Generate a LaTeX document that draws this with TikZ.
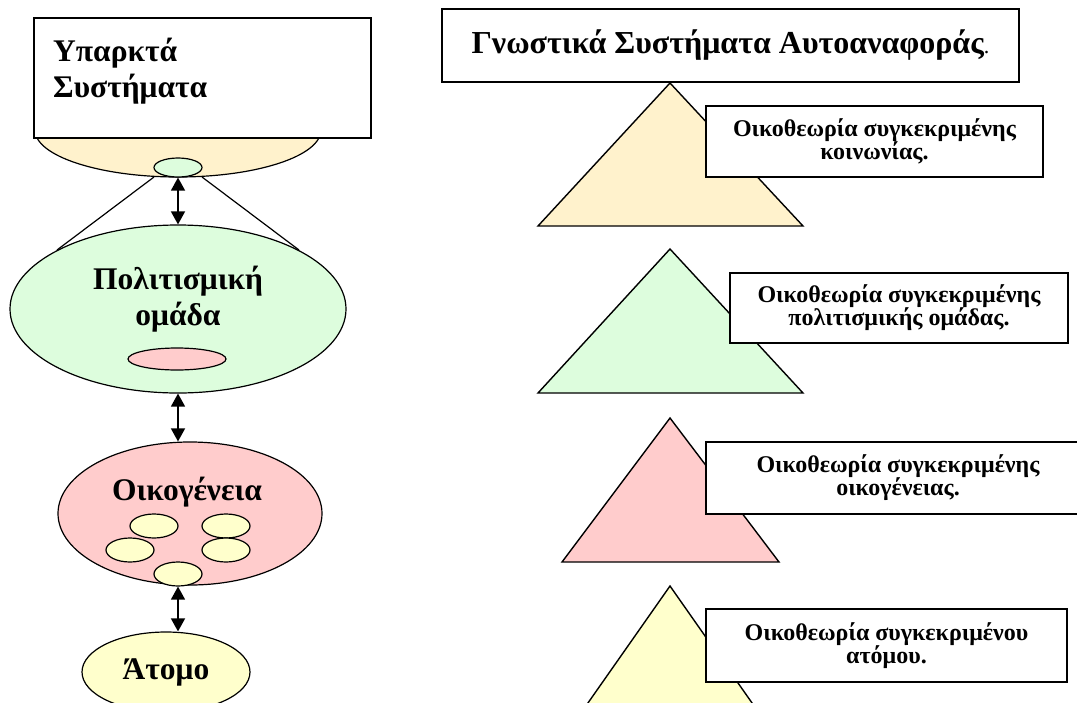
\documentclass[tikz,border=0pt]{standalone}
\usepackage{fontspec}
\setmainfont{Liberation Serif}
\usetikzlibrary{arrows.meta,shapes.geometric}
\definecolor{cbeige}{HTML}{FFF2CC}
\definecolor{cgreen}{HTML}{DDFDDD}
\definecolor{cpink}{HTML}{FFCCCC}
\definecolor{cyellow}{HTML}{FFFFCC}
\begin{document}
\begin{tikzpicture}[x=1pt,y=-1pt,
  box/.style={draw, fill=white, line width=1.5pt, inner sep=2pt},
  ell/.style={draw, ellipse, inner sep=0pt, line width=1.2pt},
  tri/.style={draw, line width=1.4pt, line join=miter},
  dbl/.style={{Triangle[length=13pt,width=14pt]}-{Triangle[length=13pt,width=14pt]}, line width=1.5pt},
  lbl/.style={font=\bfseries\fontsize{31.5}{36}\selectfont, align=center},
  small/.style={font=\bfseries\fontsize{24}{23}\selectfont, align=center}]
\useasboundingbox (0,0) rectangle (1077,702);
\clip (0,0) rectangle (1077,702);
\fill[white] (0,0) rectangle (1077,702);

% left column
\node[ell, fill=cbeige, minimum width=286pt, minimum height=94pt] (soc) at (178,130) {};
\node[box, minimum width=337pt, minimum height=120pt] (exist) at (202.5,78) {};
\node[lbl, align=left, anchor=west, inner sep=0pt] (existlbl) at (53,71) {Υπαρκτά\\Συστήματα};
\node[ell, fill=cgreen, minimum width=48pt, minimum height=19pt] (sg) at (178,167.5) {};
\node[ell, fill=cgreen, minimum width=336pt, minimum height=168pt] (grp) at (178,309) {};
\node[lbl] (grplbl) at (178,299) {Πολιτισμική\\ομάδα};
\node[ell, fill=cpink, minimum width=98pt, minimum height=22pt] (sp) at (177,359) {};
\node[ell, fill=cpink, minimum width=264pt, minimum height=143pt] (fam) at (190,513.5) {};
\node[lbl] (famlbl) at (187,492) {Οικογένεια};
\node[ell, fill=cyellow, minimum width=48pt, minimum height=24pt] (y1) at (154,526) {};
\node[ell, fill=cyellow, minimum width=48pt, minimum height=24pt] (y2) at (226,526) {};
\node[ell, fill=cyellow, minimum width=48pt, minimum height=24pt] (y3) at (130,550) {};
\node[ell, fill=cyellow, minimum width=48pt, minimum height=24pt] (y4) at (226,550) {};
\node[ell, fill=cyellow, minimum width=48pt, minimum height=24pt] (y5) at (178,574) {};
\node[ell, fill=cyellow, minimum width=168pt, minimum height=80pt, lbl] (atom) at (166,672) {Άτομο};

\coordinate (la) at (154,177);
\coordinate (lb) at (57,250);
\coordinate (ra) at (202,177);
\coordinate (rb) at (299,250);
\draw[line width=1.2pt] (la) -- (lb);
\draw[line width=1.2pt] (ra) -- (rb);

\draw[dbl] (sg.south) -- (grp.north);
\draw[dbl] (grp.south) -- (grp.south |- fam.north);
\draw[dbl] (y5.south) -- (y5.south |- atom.north);

% right column
\node[box, minimum width=577pt, minimum height=73pt, font=\bfseries\fontsize{32}{34}\selectfont] (title) at (730.5,45.5)
  {Γνωστικά Συστήματα Αυτοαναφοράς{\mdseries\fontsize{22}{22}\selectfont.}};

\draw[tri, fill=cbeige] (670,83) -- (803,226) -- (538,226) -- cycle;
\draw[tri, fill=cgreen] (670,249) -- (803,393) -- (538,393) -- cycle;
\draw[tri, fill=cpink] (670,418) -- (779,562) -- (562,562) -- cycle;
\draw[tri, fill=cyellow] (670,586) -- (771,730) -- (569,730) -- cycle;

\node[box, small, minimum width=337pt, minimum height=71pt] (b1) at (874.5,141.5) {Οικοθεωρία συγκεκριμένης\\κοινωνίας.};
\node[box, small, minimum width=338pt, minimum height=70pt] (b2) at (899,308) {Οικοθεωρία συγκεκριμένης\\πολιτισμικής ομάδας.};
\node[box, small, minimum width=384pt, minimum height=72pt] (b3) at (898,478) {Οικοθεωρία συγκεκριμένης\\οικογένειας.};
\node[box, small, minimum width=361pt, minimum height=73pt] (b4) at (886.5,645.5) {Οικοθεωρία συγκεκριμένου\\ατόμου.};
\end{tikzpicture}
\end{document}
